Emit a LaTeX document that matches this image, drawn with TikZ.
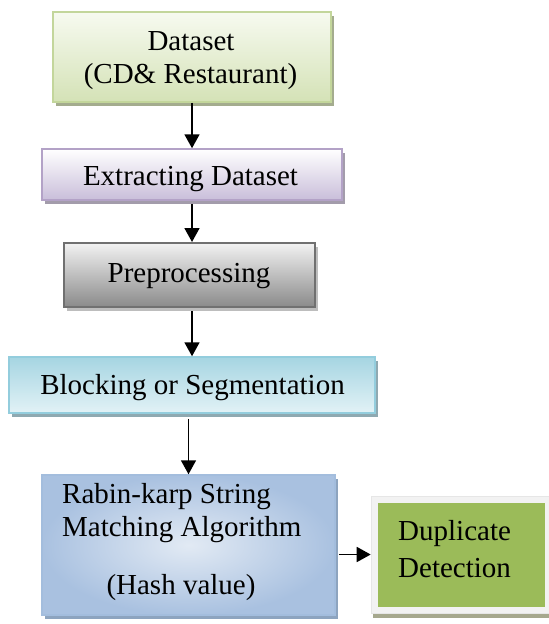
\documentclass[tikz,border=0pt]{standalone}
\usepackage{fontspec}
\setmainfont{Liberation Serif}
\usetikzlibrary{arrows.meta,shadows}

% box colours
\definecolor{dsTop}{HTML}{F7FAF0}
\definecolor{dsBot}{HTML}{D4E2B6}
\definecolor{dsLine}{HTML}{C3D69B}
\definecolor{dsShadow}{HTML}{A4AC8E}
\definecolor{exTop}{HTML}{FFFFFF}
\definecolor{exBot}{HTML}{C9BEDA}
\definecolor{exLine}{HTML}{B3A2C7}
\definecolor{exShadow}{HTML}{A39CAB}
\definecolor{ppTop}{HTML}{F2F2F2}
\definecolor{ppBot}{HTML}{8A8A8A}
\definecolor{ppLine}{HTML}{707070}
\definecolor{ppShadow}{HTML}{BDBDBD}
\definecolor{blTop}{HTML}{A6D5E2}
\definecolor{blBot}{HTML}{E2F2F6}
\definecolor{blLine}{HTML}{93CDDD}
\definecolor{blShadow}{HTML}{8FA9B1}
\definecolor{rkIn}{HTML}{E2EAF4}
\definecolor{rkOut}{HTML}{A9C1E0}
\definecolor{rkLine}{HTML}{A3BDDD}
\definecolor{rkShadow}{HTML}{8DA4BF}
\definecolor{dupFill}{HTML}{9BBB59}
\definecolor{dupFrame}{HTML}{F2F2F2}
\definecolor{dupShadow}{HTML}{A6A88E}

\tikzset{
  box/.style={draw, line width=1.5pt, inner sep=0pt, rectangle},
  shade/.style={drop shadow={shadow xshift=3pt, shadow yshift=-4pt, fill=#1, opacity=1}},
  txt/.style={font=\fontsize{29}{33}\selectfont, inner sep=0pt, anchor=base},
  arr/.style={line width=1.8pt, -{Triangle[width=15pt,length=14pt]}}
}

\begin{document}
\begin{tikzpicture}[x=1pt,y=-1pt]
\useasboundingbox (0,0) rectangle (549,624);

% process boxes
\node[box, draw=dsLine, top color=dsTop, bottom color=dsBot, shade=dsShadow,
      minimum width=278pt, minimum height=90pt] (dataset) at (192,57) {};
\node[box, draw=exLine, top color=exTop, bottom color=exBot, shade=exShadow,
      minimum width=300pt, minimum height=51pt] (extract) at (192,174.5) {};
\node[box, draw=ppLine, top color=ppTop, bottom color=ppBot, shade=ppShadow,
      line width=2pt, minimum width=251pt, minimum height=64pt] (preproc) at (189.5,275) {};
\node[box, draw=blLine, top color=blTop, bottom color=blBot, shade=blShadow,
      minimum width=366pt, minimum height=56pt] (block) at (192,385) {};
\node[box, draw=rkLine, inner color=rkIn, outer color=rkOut, shade=rkShadow,
      minimum width=293pt, minimum height=140pt] (rabin) at (188.5,545) {};

% result box: light frame with green panel inside
\node[rectangle, fill=dupFrame, draw=dupFrame!95!black, line width=0.6pt, inner sep=0pt,
      drop shadow={shadow xshift=2pt, shadow yshift=-5pt, fill=dupShadow, opacity=1},
      minimum width=181pt, minimum height=117pt] (dupframe) at (461.5,554.5) {};
\node[rectangle, fill=dupFill, inner sep=0pt,
      minimum width=167pt, minimum height=104pt] (dup) at (461.5,555) {};

% labels
\node[txt] (t1) at (191,50) {Dataset};
\node[txt] (t2) at (190.5,83) {(CD\& Restaurant)};
\node[txt] (t3) at (190.5,185) {Extracting Dataset};
\node[txt] (t4) at (189,282) {Preprocessing};
\node[txt] (t5) at (192.5,394) {Blocking or Segmentation};
\node[txt, anchor=base west] (t6) at (62,503) {Rabin-karp String};
\node[txt, anchor=base west] (t7) at (62,536) {Matching Algorithm};
\node[txt] (t8) at (181,594) {(Hash value)};
\node[txt, anchor=base west] (t9) at (398,540) {Duplicate};
\node[txt, anchor=base west] (t10) at (398,577) {Detection};

% flow arrows
\draw[arr] (dataset.south) -- (extract.north);
\draw[arr] ([yshift=-3pt]extract.south) -- (extract.south |- preproc.north);
\draw[arr] ([yshift=-3pt]preproc.south -| block.north) -- (block.north);
\draw[arr] ([yshift=-5pt]block.south -| rabin.north) -- (rabin.north);
\draw[arr] ([xshift=3pt]rabin.east |- dupframe.west) -- (dupframe.west);
\end{tikzpicture}
\end{document}
